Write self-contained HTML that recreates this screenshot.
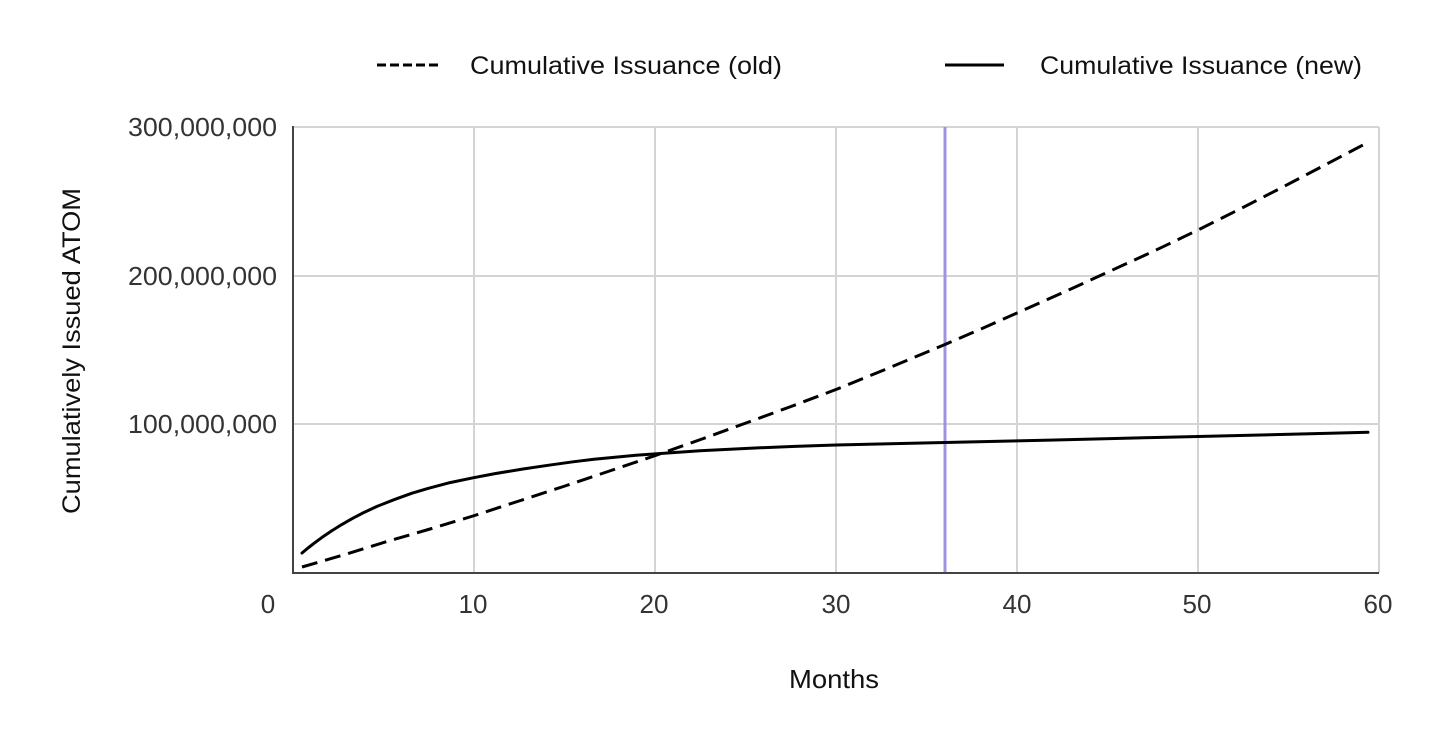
<!DOCTYPE html>
<html>
<head>
<meta charset="utf-8">
<style>
  html, body { margin: 0; padding: 0; background: #ffffff; }
  body { width: 1456px; height: 733px; overflow: hidden; }
  svg { display: block; }
  text { font-family: "Liberation Sans", "DejaVu Sans", sans-serif; }
</style>
</head>
<body>
<svg width="1456" height="733" viewBox="0 0 1456 733" xmlns="http://www.w3.org/2000/svg">
  <rect x="0" y="0" width="1456" height="733" fill="#ffffff"/>

  <!-- Legend -->
  <line x1="377" y1="65" x2="438" y2="65" stroke="#000" stroke-width="3" stroke-dasharray="9,4"/>
  <text x="470" y="74" font-size="25" fill="#111" textLength="312" lengthAdjust="spacingAndGlyphs">Cumulative Issuance (old)</text>
  <line x1="945" y1="65" x2="1004" y2="65" stroke="#000" stroke-width="3"/>
  <text x="1040" y="74" font-size="25" fill="#111" textLength="322" lengthAdjust="spacingAndGlyphs">Cumulative Issuance (new)</text>

  <!-- Grid -->
  <g stroke="#d4d4d4" stroke-width="2" fill="none">
    <line x1="293" y1="127" x2="1379" y2="127"/>
    <line x1="293" y1="276" x2="1379" y2="276"/>
    <line x1="293" y1="424" x2="1379" y2="424"/>
    <line x1="474" y1="127" x2="474" y2="573"/>
    <line x1="655" y1="127" x2="655" y2="573"/>
    <line x1="836" y1="127" x2="836" y2="573"/>
    <line x1="1017" y1="127" x2="1017" y2="573"/>
    <line x1="1198" y1="127" x2="1198" y2="573"/>
    <line x1="1379" y1="127" x2="1379" y2="573"/>
  </g>

  <!-- Purple marker line at month 36 -->
  <line x1="945" y1="127" x2="945" y2="573" stroke="#9c94e0" stroke-width="3"/>

  <!-- Axes -->
  <line x1="293" y1="126" x2="293" y2="574" stroke="#444" stroke-width="2"/>
  <line x1="292" y1="573" x2="1379" y2="573" stroke="#444" stroke-width="2"/>

  <!-- Old (dashed) -->
  <polyline fill="none" stroke="#000" stroke-width="3" stroke-dasharray="16,8" stroke-linejoin="round"
    points="302,567 345,554.5 387,541.5 430,529 473,516 519,501 565,486 611,470.5 657,455 702,439 746,423 791,406.5 836,389.5 890,367.5 945,344.5 981,329 1017,313 1062,293 1107,272.5 1153,251.5 1198,230 1240,209 1280,188.5 1322,166.5 1363,145"/>

  <!-- New (solid) -->
  <polyline fill="none" stroke="#000" stroke-width="3" stroke-linejoin="round" stroke-linecap="round"
    points="302,553 308,548 315,542.6 322,537.4 332,530.6 342,524.4 352,518.7 362,513.4 377,506.4 395,499.3 412,493.2 428,488.4 450,482.6 473,477.8 495,473.6 523,469 548,465.3 573,461.8 594,459.3 615,457.2 636,455.3 657,453.8 700,450.8 750,448.2 795,446.4 836,445 890,443.7 945,442.5 1000,441.3 1050,440.1 1100,438.9 1150,437.6 1198,436.5 1245,435.4 1290,434.3 1330,433.3 1368,432.3"/>

  <!-- Y tick labels -->
  <g font-size="26" fill="#333" text-anchor="end">
    <text x="277" y="136" textLength="149" lengthAdjust="spacingAndGlyphs">300,000,000</text>
    <text x="277" y="285" textLength="149" lengthAdjust="spacingAndGlyphs">200,000,000</text>
    <text x="277" y="433" textLength="149" lengthAdjust="spacingAndGlyphs">100,000,000</text>
  </g>

  <!-- X tick labels -->
  <g font-size="26" fill="#333" text-anchor="middle">
    <text x="268" y="613">0</text>
    <text x="473" y="613">10</text>
    <text x="654" y="613">20</text>
    <text x="836" y="613">30</text>
    <text x="1017" y="613">40</text>
    <text x="1197" y="613">50</text>
    <text x="1378" y="613">60</text>
  </g>

  <!-- Axis titles -->
  <text x="834" y="688" font-size="26" fill="#111" text-anchor="middle" textLength="90" lengthAdjust="spacingAndGlyphs">Months</text>
  <text transform="translate(80,351) rotate(-90)" x="0" y="0" font-size="25" fill="#111" text-anchor="middle" textLength="326" lengthAdjust="spacingAndGlyphs">Cumulatively Issued ATOM</text>
</svg>
</body>
</html>
